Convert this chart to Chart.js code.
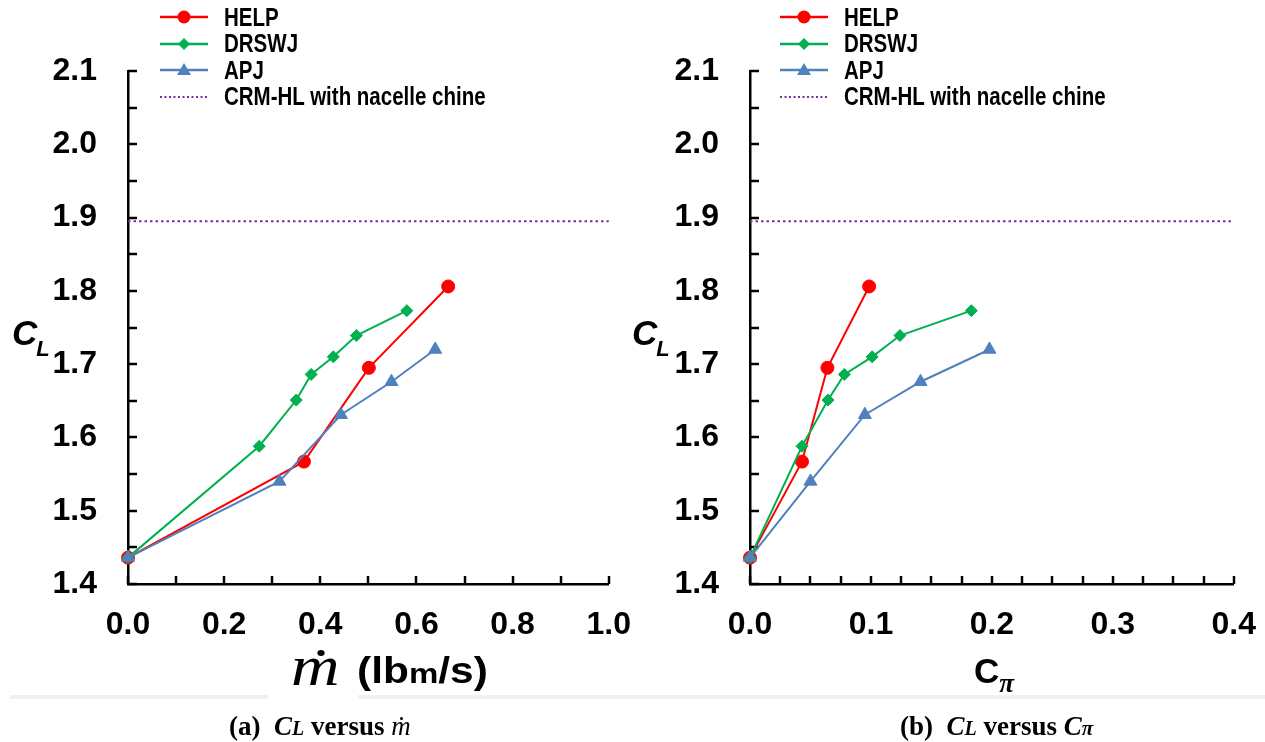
<!DOCTYPE html>
<html>
<head>
<meta charset="utf-8">
<script src="https://cdn.jsdelivr.net/npm/chart.js@4.4.1/dist/chart.umd.min.js"></script>
<style>
body { margin: 0; background: #fff; width: 1265px; height: 742px; position: relative; overflow: hidden; font-family: "Liberation Sans", Arial, sans-serif; }
canvas { position: absolute; top: 0; }
.t { position: absolute; white-space: pre; color: #000; }
.legend { position: absolute; top: 4px; }
.legend .row { display: flex; align-items: center; height: 26.5px; }
.legend .row span { font-weight: bold; font-size: 25px; transform: scaleX(0.82); transform-origin: left center; margin-left: 16px; }
.cl { font: italic bold 35px "Liberation Sans", Arial, sans-serif; line-height: 34px; }
.cl span { font-size: 22px; position: relative; top: 11px; left: -1px; }
.cap { font: bold 27px "Liberation Serif", "Times New Roman", serif; line-height: 30px; top: 711px; }
.cap i { font-style: italic; }
.band { position: absolute; top: 695px; height: 4px; background: #f0f0f0; }
.md { position: relative; display: inline-block; }
.md b { position: absolute; background: #000; border-radius: 50%; }
</style>
</head>
<body>
<canvas id="chartMdot" width="653" height="660" style="left:0"></canvas>
<canvas id="chartCpi" width="638" height="660" style="left:640px"></canvas>

<div class="legend" id="legendA" style="left:160px"></div>
<div class="legend" id="legendB" style="left:780px"></div>

<div class="t cl" style="left:12px;top:316px">C<span>L</span></div>
<div class="t cl" style="left:632px;top:316px">C<span>L</span></div>

<div class="t" style="left:291px;top:636px;font:italic 56px 'Liberation Serif',serif;line-height:60px;transform:scaleX(1.2);transform-origin:left"><span class="md">m<b style="width:6px;height:6px;left:22px;top:14px"></b></span></div>
<div class="t" style="left:357px;top:651px;font:bold 36px 'Liberation Sans',Arial,sans-serif;line-height:40px;transform:scaleX(1.18);transform-origin:left">(lb<span style="font-size:28px">m</span>/s)</div>

<div class="t" style="left:974px;top:651px;font:bold 35px 'Liberation Sans',Arial,sans-serif;line-height:40px">C<span style="font:italic bold 27px 'Liberation Serif',serif;position:relative;top:9px">π</span></div>

<div class="band" style="left:10px;width:258px"></div>
<div class="band" style="left:358px;width:907px"></div>

<div class="t cap" style="left:229px">(a)  <i>C<span style="font-size:20px">L</span></i> versus <i style="font-weight:normal"><span class="md">m<b style="width:3px;height:3px;left:9px;top:6px"></b></span></i></div>
<div class="t cap" style="left:900px">(b)  <i>C<span style="font-size:20px">L</span></i> versus <i>C<span style="font-size:21px">π</span></i></div>

<script>
// C_L is shared by both panels, x values differ
const helpMdot  = [0, 0.366, 0.501, 0.666];
const helpCpi   = [0, 0.043, 0.064, 0.0985];
const helpCL    = [1.436, 1.567, 1.695, 1.806];

const drswjMdot = [0, 0.273, 0.350, 0.381, 0.427, 0.475, 0.580];
const drswjCpi  = [0, 0.043, 0.0645, 0.078, 0.101, 0.124, 0.183];
const drswjCL   = [1.436, 1.588, 1.651, 1.686, 1.710, 1.739, 1.773];

const apjMdot   = [0, 0.315, 0.443, 0.548, 0.639];
const apjCpi    = [0, 0.050, 0.095, 0.141, 0.198];
const apjCL     = [1.436, 1.540, 1.631, 1.676, 1.720];

const crmCL = 1.895;

const yTicks = { min: 1.4, max: 2.1, step: 0.05 };
const mdotTicks = { min: 0, max: 1.0, step: 0.1, every: 2 };
const cpiTicks  = { min: 0, max: 0.4, step: 0.025, every: 4 };

const series = [
    { label: 'HELP',  color: '#ff0000', style: 'circle',   radius: 6.5, order: 3 },
    { label: 'DRSWJ', color: '#00b050', style: 'rectRot',  radius: 6,   order: 2 },
    { label: 'APJ',   color: '#4f81bd', style: 'triangle', radius: 7.5, order: 1 },
    { label: 'CRM-HL with nacelle chine', color: '#7030a0', dotted: true, order: 4 }
];

function pts(xs, ys) {
    return xs.map((x, i) => ({ x: x, y: ys[i] }));
}

// ticks drawn inward, like the original plot
const innerTicks = {
    id: 'innerTicks',
    beforeDatasetsDraw(chart) {
        const ctx = chart.ctx;
        const x = chart.scales.x, y = chart.scales.y;
        ctx.save();
        ctx.strokeStyle = '#000';
        ctx.lineWidth = 2.5;
        y.ticks.forEach((t, i) => {
            const py = Math.round(y.getPixelForTick(i));
            ctx.beginPath(); ctx.moveTo(y.right, py); ctx.lineTo(y.right + 9, py); ctx.stroke();
        });
        x.ticks.forEach((t, i) => {
            const px = Math.round(x.getPixelForTick(i));
            ctx.beginPath(); ctx.moveTo(px, x.top); ctx.lineTo(px, x.top - 8); ctx.stroke();
        });
        ctx.restore();
    }
};

const tickFont = { family: 'Liberation Sans', size: 32, weight: 'bold' };

function buildChart(id, xsList, xt, yWidth) {
    const ys = [helpCL, drswjCL, apjCL];
    const datasets = series.map((s, k) => {
        if (s.dotted) {
            return {
                label: s.label, data: pts([xt.min, xt.max], [crmCL, crmCL]),
                borderColor: s.color, borderWidth: 2, borderDash: [2.5, 3],
                pointRadius: 0, showLine: true, order: s.order, clip: false
            };
        }
        return {
            label: s.label, data: pts(xsList[k], ys[k]),
            borderColor: s.color, backgroundColor: s.color, borderWidth: 2,
            pointStyle: s.style, pointRadius: s.radius, pointBorderWidth: 1,
            pointBorderColor: s.color, pointBackgroundColor: s.color,
            showLine: true, order: s.order, clip: false
        };
    });

    return new Chart(document.getElementById(id), {
        type: 'scatter',
        data: { datasets: datasets },
        options: {
            responsive: false,
            animation: false,
            layout: { padding: { top: 71, right: 17, left: 0, bottom: 0 } },
            plugins: { legend: { display: false }, tooltip: { enabled: false } },
            scales: {
                x: {
                    type: 'linear', min: xt.min, max: xt.max,
                    grid: { display: false, drawTicks: false },
                    border: { display: true, color: '#000', width: 2.5 },
                    ticks: {
                        stepSize: xt.step, autoSkip: false, maxRotation: 0, padding: 22,
                        color: '#000', font: tickFont,
                        callback: (v) => {
                            const n = Math.round(v / xt.step);
                            return (Math.abs(v / xt.step - n) < 1e-6 && n % xt.every === 0) ? v.toFixed(1) : '';
                        }
                    },
                    afterFit: (s) => { s.height = 76; }
                },
                y: {
                    type: 'linear', min: yTicks.min, max: yTicks.max,
                    grid: { display: false, drawTicks: false },
                    border: { display: true, color: '#000', width: 2.5 },
                    ticks: {
                        stepSize: yTicks.step, autoSkip: false, padding: 31,
                        color: '#000', font: tickFont,
                        callback: (v) => {
                            const n = Math.round(v / yTicks.step);
                            return n % 2 === 0 ? v.toFixed(1) : '';
                        }
                    },
                    afterFit: (s) => { s.width = yWidth; }
                }
            }
        },
        plugins: [innerTicks]
    });
}

function symbolSvg(s) {
    let mark = '';
    if (s.style === 'circle') mark = `<circle cx="24" cy="8" r="6.5" fill="${s.color}"/>`;
    if (s.style === 'rectRot') mark = `<polygon points="24,2 30,8 24,14 18,8" fill="${s.color}"/>`;
    if (s.style === 'triangle') mark = `<polygon points="24,1 31,13 17,13" fill="${s.color}"/>`;
    const line = s.dotted
        ? `<line x1="0" y1="8" x2="48" y2="8" stroke="${s.color}" stroke-width="2" stroke-dasharray="2 2.5"/>`
        : `<line x1="0" y1="8" x2="48" y2="8" stroke="${s.color}" stroke-width="2.5"/>`;
    return `<svg width="48" height="16">${line}${mark}</svg>`;
}

function buildLegend(id) {
    document.getElementById(id).innerHTML = series.map(s =>
        `<div class="row">${symbolSvg(s)}<span>${s.label}</span></div>`).join('');
}

buildChart('chartMdot', [helpMdot, drswjMdot, apjMdot], mdotTicks, 128);
buildChart('chartCpi', [helpCpi, drswjCpi, apjCpi], cpiTicks, 110);
buildLegend('legendA');
buildLegend('legendB');
</script>
</body>
</html>
